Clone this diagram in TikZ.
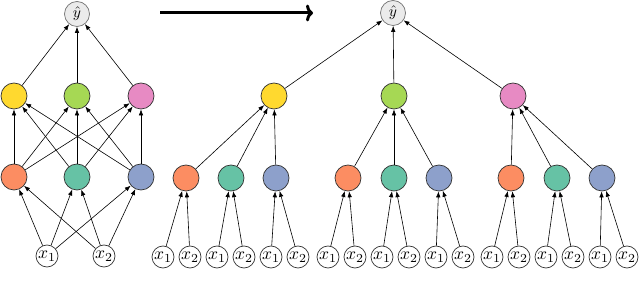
\documentclass[tikz,border=0pt]{standalone}
\usepackage{graphicx}
\usetikzlibrary{arrows.meta}
\definecolor{cyel}{HTML}{FFD92F}
\definecolor{cgrn}{HTML}{A6D854}
\definecolor{cpnk}{HTML}{E78AC3}
\definecolor{corg}{HTML}{FC8D62}
\definecolor{ctea}{HTML}{66C2A5}
\definecolor{cblu}{HTML}{8DA0CB}
\definecolor{cout}{HTML}{EBEBEB}
\definecolor{cline}{HTML}{333333}
\newcommand{\xone}{\scalebox{1.75}{$x_1$}}
\newcommand{\xtwo}{\scalebox{1.75}{$x_2$}}
\newcommand{\yhat}{\scalebox{1.55}{$\hat{y}$}}
\begin{document}
\begin{tikzpicture}[x=1pt,y=-1pt,
  col/.style={circle,draw=cline,line width=0.7pt,minimum size=26pt,inner sep=0pt,fill=#1},
  inp/.style={circle,draw=cline,line width=0.7pt,minimum size=22pt,inner sep=0pt,fill=white},
  outn/.style={circle,draw=black!55,line width=0.7pt,minimum size=25pt,inner sep=0pt,fill=cout},
  edge/.style={-{Latex[length=6pt,width=4.5pt]},line width=0.6pt},
  bigarrow/.style={line width=3pt,-{To[length=7pt,width=17pt]}}]
\useasboundingbox (0,0) rectangle (640,288);

% ---------- left network ----------
\node[outn] (yL) at (77,14) {\yhat};
\node[col=cyel] (L1) at (14,96) {};
\node[col=cgrn] (L2) at (77,96) {};
\node[col=cpnk] (L3) at (141,96) {};
\node[col=corg] (B1) at (14,177) {};
\node[col=ctea] (B2) at (77,177) {};
\node[col=cblu] (B3) at (141,177) {};
\node[inp] (X1) at (47,256) {\xone};
\node[inp] (X2) at (104,256) {\xtwo};
\foreach \i in {1,2,3} {
  \draw[edge] (L\i) -- (yL);
  \draw[edge] (X1) -- (B\i);
  \draw[edge] (X2) -- (B\i);
  \foreach \j in {1,2,3} {
    \draw[edge] (B\j) -- (L\i);
  }
}

% ---------- big arrow ----------
\coordinate (as) at (160,13);
\coordinate (ae) at (313,13);
\draw[bigarrow] (as) -- (ae);

% ---------- right tree ----------
\node[outn] (yR) at (393,13) {\yhat};
\foreach \g/\mx/\mc/\ba/\bb/\bc/\xs in {1/274/cyel/186/231/276/163, 2/394/cgrn/348/394/439/328, 3/513/cpnk/511/557/602/492} {
  \node[col=\mc] (m-\g) at (\mx,96) {};
  \draw[edge] (m-\g) -- (yR);
  \foreach \j/\bx/\bcol in {1/\ba/corg, 2/\bb/ctea, 3/\bc/cblu} {
    \node[col=\bcol] (b-\g-\j) at (\bx,178) {};
    \pgfmathsetmacro\xa{\xs+27*(2*\j-2)}
    \pgfmathsetmacro\xb{\xs+27*(2*\j-1)}
    \node[inp] (xa-\g-\j) at (\xa,257) {\xone};
    \node[inp] (xb-\g-\j) at (\xb,257) {\xtwo};
    \draw[edge] (xa-\g-\j) -- (b-\g-\j);
    \draw[edge] (xb-\g-\j) -- (b-\g-\j);
    \draw[edge] (b-\g-\j) -- (m-\g);
  }
}
\end{tikzpicture}
\end{document}
